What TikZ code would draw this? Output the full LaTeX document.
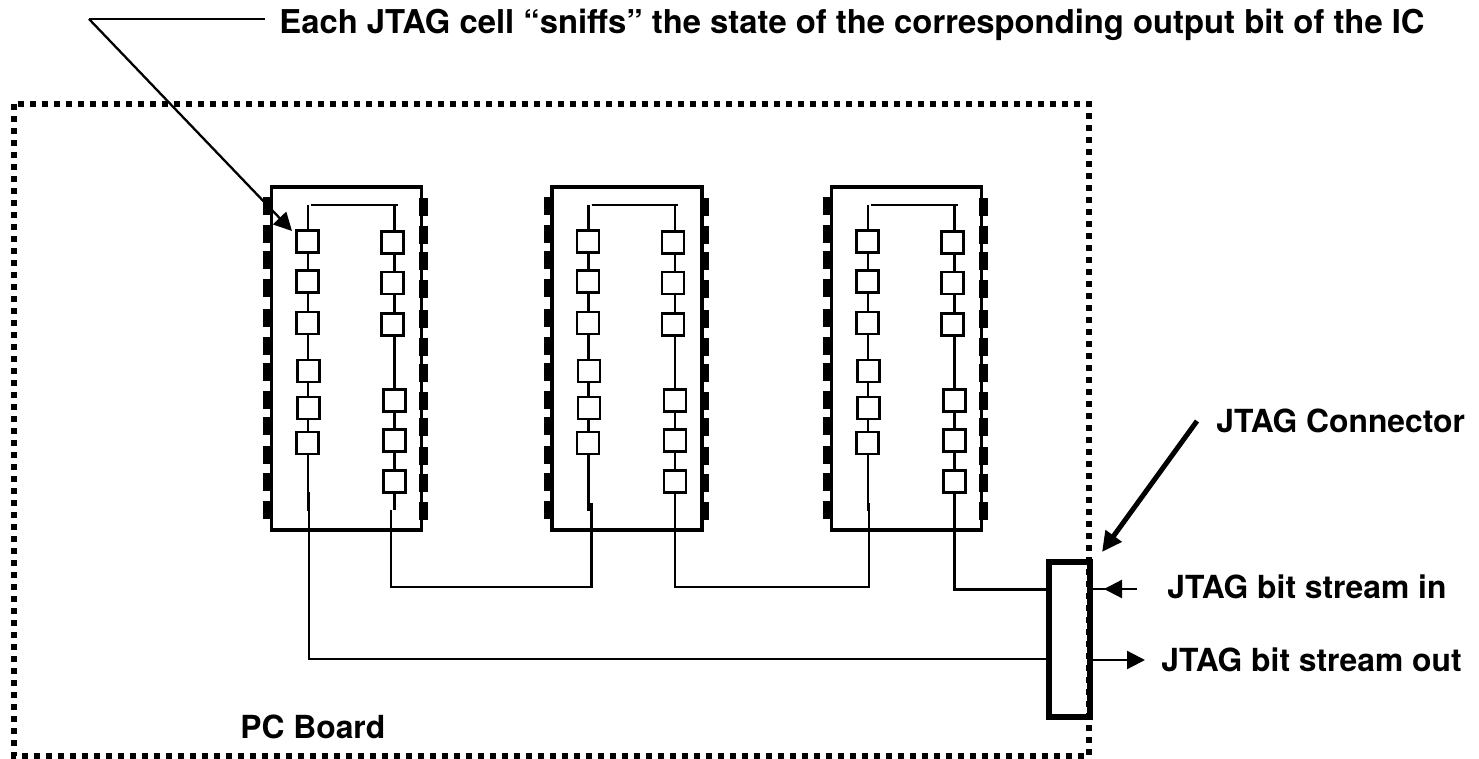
\documentclass[tikz,border=0pt]{standalone}
\usepackage{fontspec}
\setmainfont{TeX Gyre Heros}
\usetikzlibrary{arrows.meta,positioning,calc}

\begin{document}
\begin{tikzpicture}[
        x=0.5pt, y=-0.5pt,
        chipbox/.style={draw, line width=1.75pt, minimum width=75pt, minimum height=171.5pt, inner sep=0pt},
        pin/.style={fill, inner sep=0pt, minimum width=4.5pt, minimum height=9pt},
        cell/.style={draw, line width=1.15pt, fill=white, inner sep=0pt, minimum size=11pt},
        wire/.style={line width=1.35pt},
        trace/.style={line width=1.15pt},
        board/.style={line width=3pt, dash pattern=on 3pt off 3pt},
        label/.style={font=\bfseries\fontsize{15.9pt}{19pt}\selectfont, anchor=base west, inner sep=0pt},
        arrow/.style={-{Triangle[length=9pt, width=9pt]}, line width=1.15pt}
      ]
        \useasboundingbox (0,0) rectangle (1479,759);
        \draw[board] (14,104) rectangle (1089,756);

        % the three ICs
        \foreach \chip/\off in {1/0, 2/280.5, 3/560} {
          \node[chipbox] (chip\chip) at (346.5+\off,358.5) {};
          \foreach \y [count=\n] in {206,234,260,288,318,346,372,400,426,455,482,510} {
            \node[pin] (pinL\chip-\n) at (267.5+\off,\y) {};
            \node[pin] (pinR\chip-\n) at (423.5+\off,\y+1) {};
          }
          \coordinate (topL\chip) at (308+\off,205);
          \coordinate (topR\chip) at (394.5+\off,205);
          \coordinate (endL\chip) at (308+\off,511);
          \coordinate (endR\chip) at (394.5+\off,510);
          \draw[wire] (topL\chip) -- (endL\chip);
          \draw[wire] ($(topL\chip)+(3,0)$) -- ($(topR\chip)+(3,0)$);
          \draw[wire] (topR\chip) -- (endR\chip);
          \foreach \n/\cx/\cy in {1/307.5/241.5, 2/307.5/281.5, 3/307.5/323, 4/308.5/371, 5/308.5/408, 6/307.5/443} {
            \node[cell] (cellL\chip-\n) at (\cx+\off,\cy) {};
          }
          \foreach \n/\cx/\cy in {1/392.5/242.5, 2/392.5/283, 3/392.5/324.5, 4/394.5/400.5, 5/394.5/440.5, 6/394.5/481.5} {
            \node[cell] (cellR\chip-\n) at (\cx+\off,\cy) {};
          }
        }

        \node[draw, line width=3pt, inner sep=0pt, minimum width=20.5pt, minimum height=77.5pt] (conn) at (1069.5,639.5) {};

        % board wiring
        \draw[trace] ($(endR1)+(-3.5,0)$) -- ++(0,77) -| ($(endL2)+(3,-8)$);
        \draw[trace] (endR2) -- ++(0,77) -| ($(endL3)+(1,-8)$);
        \draw[trace] (endR3) |- (conn.west |- 0,589.5);
        \draw[trace] ($(endL1)+(1,-19)$) |- (conn.west |- 0,659);

        % outside arrows
        \coordinate (inEnd) at (1137,589);
        \coordinate (inTip) at (1104,589);
        \coordinate (outTip) at (1145,660);
        \draw[trace] (conn.east |- inEnd) -- (inEnd);
        \draw[arrow] (inEnd) -- (inTip);
        \draw[arrow] (conn.east |- outTip) -- (outTip);

        \node[label, font=\bfseries\fontsize{16.4pt}{19pt}\selectfont] (title) at (279,34) {Each JTAG cell “sniffs” the state of the corresponding output bit of the IC};
        \node[label] (connlabel) at (1216,432) {JTAG Connector};
        \node[label] (inlabel) at (1167,598) {JTAG bit stream in};
        \node[label] (outlabel) at (1161,671) {JTAG bit stream out};
        \node[label] (boardlabel) at (240,738) {PC Board};

        \coordinate (bend) at (89,19);
        \coordinate (leaderEnd) at (265,19);
        \coordinate (cellTip) at (292,231);
        \draw[trace] (leaderEnd) -- (bend);
        \draw[arrow] (bend) -- (cellTip);

        \coordinate (connStart) at (1197,421);
        \coordinate (connTip) at (1102,552);
        \draw[-{Triangle[length=10pt, width=9.5pt]}, line width=2.5pt] (connStart) -- (connTip);
      \end{tikzpicture}
\end{document}
